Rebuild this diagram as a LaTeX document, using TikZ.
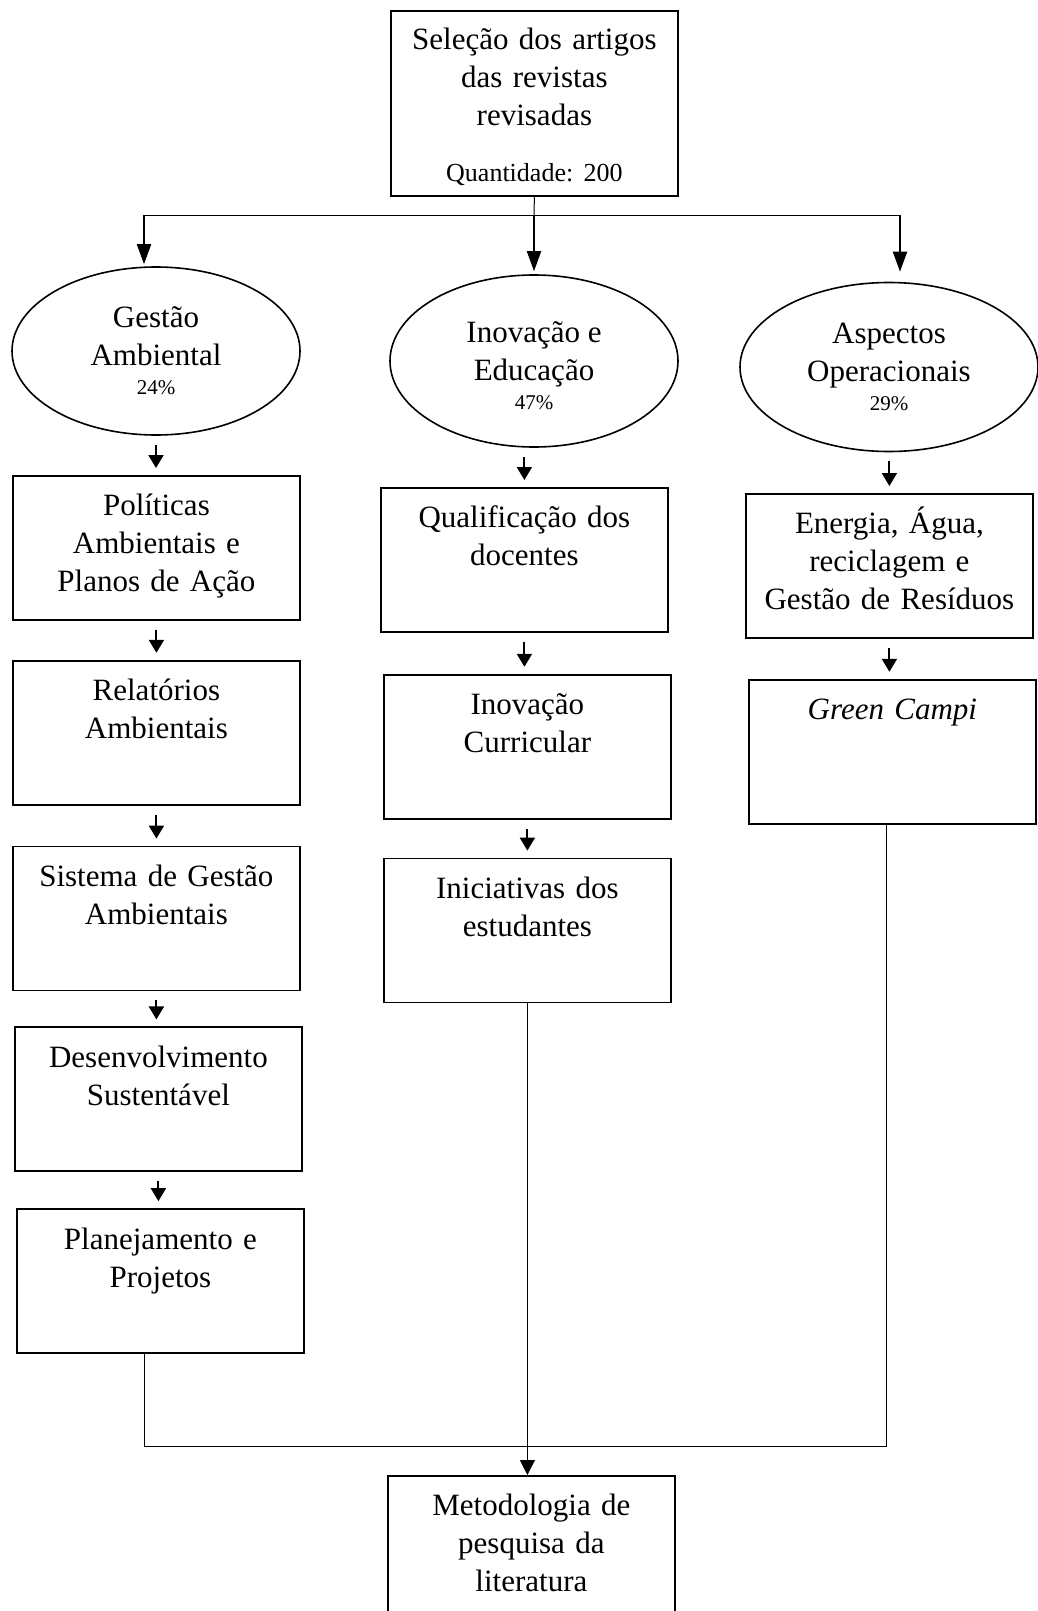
\documentclass[tikz,border=0pt]{standalone}
\usepackage{fontspec}
\setmainfont{Liberation Serif}
\usetikzlibrary{positioning, arrows.meta, shapes.geometric}
\newcommand{\porc}[1]{{\fontsize{10.5}{12}\selectfont #1}}
\frenchspacing

\begin{document}
\begin{tikzpicture}[
    x=0.5pt, y=-0.5pt,
    font=\fontsize{15.5}{19}\selectfont,
    node distance=19.5pt,
    caixa/.style={
        draw,
        line width=0.9pt,
        text width=139.5pt,
        align=center,
        inner xsep=2pt,
        inner ysep=0pt,
        text height=20pt,
        text depth=52pt
    },
    tema/.style={
        draw,
        ellipse,
        line width=0.8pt,
        align=center,
        inner sep=0pt,
        minimum width=144pt,
        minimum height=84pt
    },
    seta/.style={
        -{Triangle[length=6.5pt, width=7.5pt]},
        line width=1pt,
        shorten <=4.5pt,
        shorten >=3.5pt
    },
    setalonga/.style={-{Triangle[length=10pt, width=7pt]}, line width=1pt},
    fio/.style={line width=0.5pt}
]

\fill[white] (0,0) rectangle (1038,1611);
\useasboundingbox (0,0) rectangle (1038,1611);
\clip (0,0) rectangle (1038,1611);

\node[caixa, anchor=north west, text height=19.5pt, text depth=73pt] (sel) at (390,10)
    {Seleção dos artigos\\das revistas\\revisadas\\[9pt]{\fontsize{13}{16}\selectfont Quantidade: 200}};

% temas
\node[tema] (gA) at (156,351) {Gestão\\Ambiental\\[-4.5pt]\porc{24\%}};
\node[tema, minimum height=86pt] (iE) at (534,361) {\rule{0pt}{15pt}Inovação e\\Educação\\[-4.5pt]\porc{47\%}};
\node[tema, minimum width=149pt, minimum height=84.5pt] (aO) at (889,367) {Aspectos\\Operacionais\\[-4.5pt]\porc{29\%}};

% coluna da esquerda
\node[caixa, anchor=north west] (pol) at (12,475) {Políticas\\Ambientais e\\Planos de Ação};
\node[caixa, below=of pol] (rel) {Relatórios\\Ambientais};
\node[caixa, below=20pt of rel] (sis) {Sistema de Gestão\\Ambientais};
\node[caixa, below=17.5pt of sis, xshift=1pt] (des) {Desenvolvimento\\Sustentável};
\node[caixa, below=18pt of des, xshift=1pt] (pla) {Planejamento e\\Projetos};

% coluna do meio
\node[caixa, anchor=north west] (qua) at (380,487) {Qualificação dos\\docentes};
\node[caixa, below=20.5pt of qua, xshift=1.5pt] (inc) {Inovação\\Curricular};
\node[caixa, below=19pt of inc] (ini) {Iniciativas dos\\estudantes};

% coluna da direita
\node[caixa, anchor=north west] (ene) at (745,493) {Energia, Água,\\reciclagem e\\Gestão de Resíduos};
\node[caixa, below=20pt of ene, xshift=1.5pt] (gre) {\textit{Green Campi}};

\node[caixa, anchor=north west] (met) at (387,1475) {Metodologia de\\pesquisa da\\literatura};

% distribuicao
\coordinate (bus) at (534,215);
\coordinate (busE) at (144,215);
\coordinate (busD) at (900,215);
\draw[fio] (sel.south) -- (bus);
\draw[fio] (busE) -- (busD);
\draw[setalonga, shorten >=1pt] (busE) -- (busE |- gA.north);
\draw[setalonga, shorten >=1.5pt] (bus) -- (iE.north);
\draw[setalonga, shorten >=5pt] (busD) -- (busD |- aO.north);

\draw[seta] (gA.south) -- (gA.south |- pol.north);
\draw[seta] (qua.north |- iE.south) -- (qua.north);
\draw[seta] (ene.north |- aO.south) -- (ene.north);

\draw[seta] (pol.south) -- (pol.south |- rel.north);
\draw[seta] (rel.south) -- (rel.south |- sis.north);
\draw[seta] (sis.south) -- (sis.south |- des.north);
\draw[seta] (des.south) -- (des.south |- pla.north);
\draw[seta] (qua.south) -- (qua.south |- inc.north);
\draw[seta] (inc.south) -- (inc.south |- ini.north);
\draw[seta] (ene.south) -- (ene.south |- gre.north);

% juncao final
\coordinate (barra) at (527,1446);
\draw[fio] ([xshift=-8pt]pla.south) |- (barra) -| ([xshift=-3pt]gre.south);
\draw[fio, -{Triangle[length=7.5pt, width=7.5pt]}] (ini.south) -- (ini.south |- met.north);

\end{tikzpicture}
\end{document}
